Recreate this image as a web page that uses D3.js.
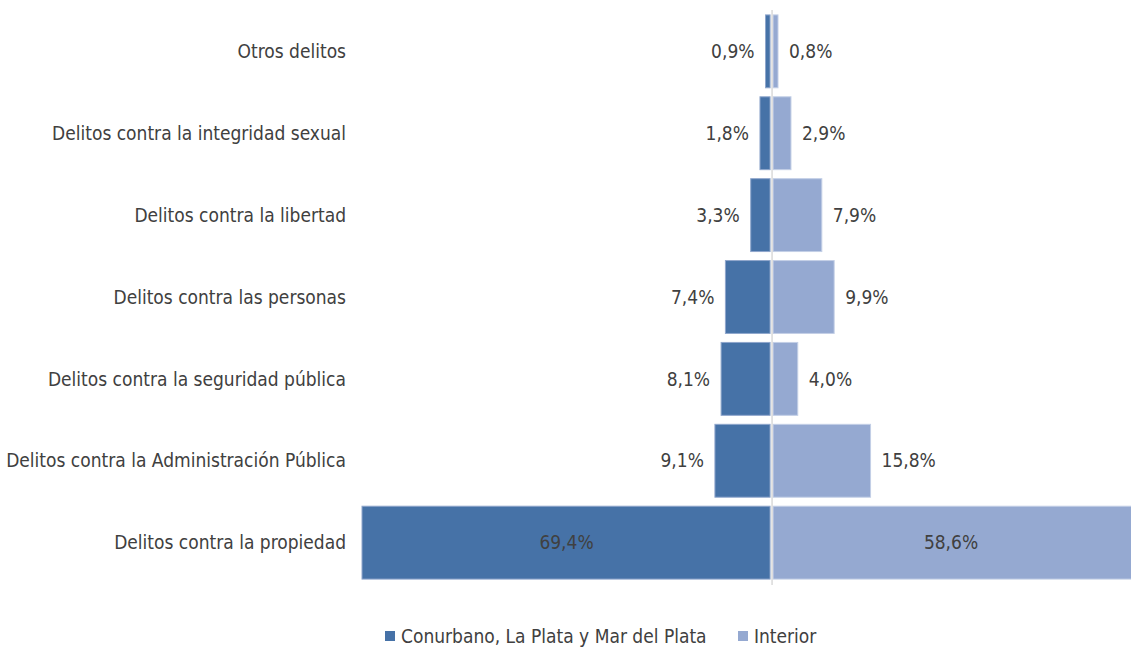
<!DOCTYPE html>
<html>
<head>
<meta charset="utf-8">
<script src="https://cdn.jsdelivr.net/npm/d3@7"></script>
<style>
  body { margin: 0; background: #fff; }
  svg text { font-family: "Liberation Sans Narrow", "DejaVu Sans Condensed", sans-serif; }
</style>
</head>
<body>
<svg id="viz"></svg>
<script>
// categories, top to bottom
var categories = [
    'Otros delitos',
    'Delitos contra la integridad sexual',
    'Delitos contra la libertad',
    'Delitos contra las personas',
    'Delitos contra la seguridad pública',
    'Delitos contra la Administración Pública',
    'Delitos contra la propiedad'
];
var conurbano = [0.9, 1.8, 3.3, 7.4, 8.1, 9.1, 69.4];
var interior = [0.8, 2.9, 7.9, 9.9, 4.0, 15.8, 58.6];
var seriesNames = ['Conurbano, La Plata y Mar del Plata', 'Interior'];

var width = 1131;
var height = 648;
var colors = ['#4672A7', '#95A9D1'];
var strokes = ['#8FA6CC', '#C3CFE6'];

var svg = d3.select('#viz')
            .attr('width', width)
            .attr('height', height);

// percent axis; left side is clipped like the original
var xScale = d3.scaleLinear()
               .domain([-66.3, 58.6])
               .range([362, 362 + 124.9 * 6.17])
               .clamp(true);
var x0 = xScale(0);

var yScale = d3.scaleBand()
               .domain(categories)
               .range([10, 584])
               .paddingInner(0.11)
               .paddingOuter(0.06);

var fmt = v => d3.format('.1f')(v).replace('.', ',') + '%';

var rows = categories.map((c, i) => ({cat: c, a: conurbano[i], b: interior[i]}));

var g = svg.append('g');

// left bars
g.selectAll('rect.left')
 .data(rows)
 .enter().append('rect')
 .attr('class', 'left')
 .attr('x', d => xScale(-d.a))
 .attr('y', d => yScale(d.cat))
 .attr('width', d => x0 - xScale(-d.a) - 1)
 .attr('height', yScale.bandwidth())
 .attr('fill', colors[0])
 .attr('stroke', strokes[0])
 .attr('stroke-width', 1);

// right bars
g.selectAll('rect.right')
 .data(rows)
 .enter().append('rect')
 .attr('class', 'right')
 .attr('x', x0 + 2)
 .attr('y', d => yScale(d.cat))
 .attr('width', d => Math.min(xScale(d.b) - x0, width + 5 - x0))
 .attr('height', yScale.bandwidth())
 .attr('fill', colors[1])
 .attr('stroke', strokes[1])
 .attr('stroke-width', 1);

// center line
svg.append('line')
   .attr('x1', x0 + 1).attr('x2', x0 + 1)
   .attr('y1', 10).attr('y2', 585)
   .attr('stroke', '#D9D9D9')
   .attr('stroke-width', 1.5);

// category labels
g.selectAll('text.cat')
 .data(rows)
 .enter().append('text')
 .attr('class', 'cat')
 .attr('x', 346)
 .attr('y', d => yScale(d.cat) + yScale.bandwidth() / 2)
 .attr('dy', '0.35em')
 .attr('text-anchor', 'end')
 .attr('font-size', 19)
 .attr('fill', '#404040')
 .text(d => d.cat);

// value labels
var big = 30;
g.selectAll('text.va')
 .data(rows)
 .enter().append('text')
 .attr('class', 'va')
 .attr('x', d => d.a > big ? (xScale(-d.a) + x0) / 2 : xScale(-d.a) - 11)
 .attr('y', d => yScale(d.cat) + yScale.bandwidth() / 2)
 .attr('dy', '0.35em')
 .attr('text-anchor', d => d.a > big ? 'middle' : 'end')
 .attr('font-size', 19)
 .attr('fill', '#404040')
 .text(d => fmt(d.a));

g.selectAll('text.vb')
 .data(rows)
 .enter().append('text')
 .attr('class', 'vb')
 .attr('x', d => d.b > big ? (x0 + width) / 2 : xScale(d.b) + 13)
 .attr('y', d => yScale(d.cat) + yScale.bandwidth() / 2)
 .attr('dy', '0.35em')
 .attr('text-anchor', d => d.b > big ? 'middle' : 'start')
 .attr('font-size', 19)
 .attr('fill', '#404040')
 .text(d => fmt(d.b));

// legend
var legend = svg.append('g').attr('transform', 'translate(385, 636)');
var lx = [0, 353];
seriesNames.forEach((name, i) => {
    legend.append('rect')
          .attr('x', lx[i]).attr('y', -5)
          .attr('width', 10).attr('height', 10)
          .attr('fill', colors[i]);
    legend.append('text')
          .attr('x', lx[i] + 16).attr('y', 0)
          .attr('dy', '0.35em')
          .attr('font-size', 19)
          .attr('fill', '#404040')
          .text(name);
});
</script>
</body>
</html>
